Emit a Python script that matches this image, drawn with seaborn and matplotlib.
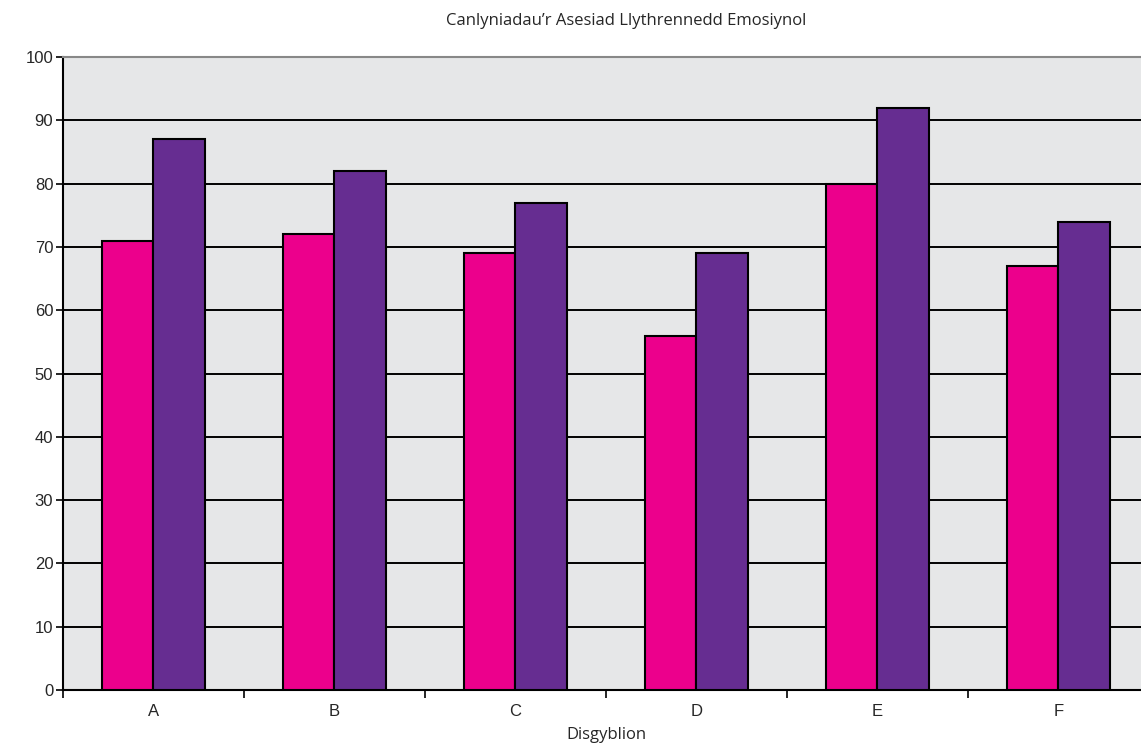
import matplotlib
matplotlib.use("Agg")
import matplotlib.pyplot as plt
import seaborn as sns
import pandas as pd
import numpy as np

categories = ["A", "B", "C", "D", "E", "F"]
series1 = [71, 72, 69, 56, 80, 67]
series2 = [87, 82, 77, 69, 92, 74]
series_names = ["Cyfres 1", "Cyfres 2"]
yticks = [0, 10, 20, 30, 40, 50, 60, 70, 80, 90, 100]

df = pd.DataFrame({
    "cat": categories * 2,
    "val": series1 + series2,
    "series": [series_names[0]] * len(categories) + [series_names[1]] * len(categories),
})

sns.set_style("white")
plt.rcParams["font.family"] = ["Liberation Sans", "DejaVu Sans"]

fig = plt.figure(figsize=(11.41, 7.48), dpi=100)
ax = fig.add_axes([63 / 1141, 58 / 748, 1086 / 1141, 633 / 748])
ax.set_facecolor("#E6E7E8")

sns.barplot(data=df, x="cat", y="val", hue="series", order=categories,
            palette=["#EC008C", "#662D91"], saturation=1, width=0.57, gap=0,
            edgecolor="black", linewidth=1.5, ax=ax, legend=False, zorder=3)

ax.set_ylim(0, 100)
ax.set_xlim(-0.5, len(categories) - 0.5)
ax.set_yticks(yticks)
ax.yaxis.grid(True, color="black", linewidth=1.4, zorder=1)
ax.set_axisbelow(True)
for b in ax.patches:
    b.set_zorder(3)

ax.tick_params(axis="y", length=5, width=1.2, color="black", labelsize=12, pad=2, left=True)
ax.tick_params(axis="x", which="major", length=0, labelsize=12, pad=10)
ax.set_xticks(np.arange(-0.5, len(categories), 1.0), minor=True)
ax.tick_params(axis="x", which="minor", length=6, width=1.2, color="black", bottom=True)

for s in ["left", "bottom"]:
    ax.spines[s].set_color("black")
    ax.spines[s].set_linewidth(1.5)
ax.spines["top"].set_color("#888888")
ax.spines["top"].set_linewidth(1.5)
ax.spines["right"].set_visible(False)

ax.set_xlabel("Disgyblion", fontsize=12, family=["Open Sans", "DejaVu Sans"], labelpad=6)
ax.set_ylabel("")
fig.text(626 / 1141, 1 - 21 / 748, "Canlyniadau’r Asesiad Llythrennedd Emosiynol",
         ha="center", va="center", fontsize=12, family=["Open Sans", "DejaVu Sans"])

fig.savefig("out.png", dpi=100)
